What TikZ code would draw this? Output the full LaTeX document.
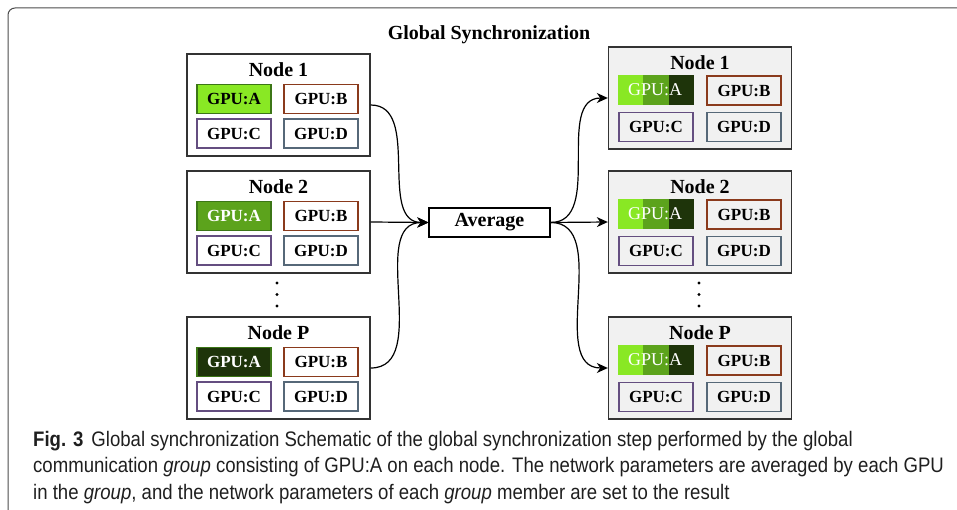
\documentclass[tikz,border=0pt]{standalone}
\usepackage{fontspec}
\setmainfont{Liberation Serif}
\newfontfamily\capfont[FakeStretch=0.885]{Liberation Sans}
\usetikzlibrary{arrows.meta}
\definecolor{limeA}{RGB}{137,232,36}
\definecolor{midA}{RGB}{92,163,28}
\definecolor{darkA}{RGB}{30,52,10}
\definecolor{edgeA}{RGB}{60,118,22}
\definecolor{edgeB}{RGB}{138,58,28}
\definecolor{edgeC}{RGB}{100,78,128}
\definecolor{edgeD}{RGB}{86,104,120}
\definecolor{panel}{RGB}{241,241,241}
\tikzset{
  machine/.style={draw=black!80, line width=1.4pt, minimum width=183pt, minimum height=102pt, inner sep=0pt},
  machinetitle/.style={font=\fontsize{20}{20}\selectfont\bfseries, inner sep=0pt},
  gpu/.style={draw, line width=1.3pt, minimum width=74pt, minimum height=29pt, inner sep=0pt,
    font=\fontsize{17}{17}\selectfont\bfseries},
  link/.style={line width=1.2pt, -{Stealth[length=11pt,width=10pt,inset=3.5pt]}}
}
\begin{document}
\begin{tikzpicture}[x=1pt,y=-1pt]
    \useasboundingbox (0,0) rectangle (957,510);
    \draw[line width=1pt, black!70] (8,510) -- (8,15) arc[start angle=180, end angle=270, radius=7] -- (957,8);
    \node[font=\fontsize{20}{20}\selectfont\bfseries] (title) at (489,35) {Global Synchronization};
    % left side: nodes before averaging
    \begin{scope}[shift={(0,54)}]
    \node[machine] (l1) at (278.5,51) {};
    \node[machinetitle] (l1t) at (278.5,16) {Node 1};
    \node[gpu, draw=edgeA, fill=limeA] (l1a) at (234,45) {GPU:A};
    \node[gpu, draw=edgeB] (l1b) at (321,45) {GPU:B};
    \node[gpu, draw=edgeC] (l1c) at (234,79.5) {GPU:C};
    \node[gpu, draw=edgeD] (l1d) at (321,79.5) {GPU:D};
    \end{scope}
    \begin{scope}[shift={(0,171)}]
    \node[machine] (l2) at (278.5,51) {};
    \node[machinetitle] (l2t) at (278.5,16) {Node 2};
    \node[gpu, draw=edgeA, fill=midA, text=white] (l2a) at (234,45) {GPU:A};
    \node[gpu, draw=edgeB] (l2b) at (321,45) {GPU:B};
    \node[gpu, draw=edgeC] (l2c) at (234,79.5) {GPU:C};
    \node[gpu, draw=edgeD] (l2d) at (321,79.5) {GPU:D};
    \end{scope}
    \begin{scope}[shift={(0,317)}]
    \node[machine] (lp) at (278.5,51) {};
    \node[machinetitle] (lpt) at (278.5,16) {Node P};
    \node[gpu, draw=edgeA, fill=darkA, text=white] (lpa) at (234,45) {GPU:A};
    \node[gpu, draw=edgeB] (lpb) at (321,45) {GPU:B};
    \node[gpu, draw=edgeC] (lpc) at (234,79.5) {GPU:C};
    \node[gpu, draw=edgeD] (lpd) at (321,79.5) {GPU:D};
    \end{scope}
    \foreach \y in {283,294.5,306} \fill (277,\y) circle (1.7);
    % right side: nodes after averaging
    \begin{scope}[shift={(0,47)}]
    \node[machine, fill=panel] (r1) at (700,51) {};
    \node[machinetitle] (r1t) at (700,15.5) {Node 1};
    \fill[limeA] (618,28) rectangle (643.3,58);
    \fill[midA] (643.3,28) rectangle (668.6,58);
    \fill[darkA] (668.6,28) rectangle (694,58);
    \node[font=\fontsize{18}{18}\selectfont, text=white, inner sep=0pt] (r1a) at (655,43) {GPU:A};
    \node[gpu, draw=edgeB] (r1b) at (744,43.5) {GPU:B};
    \node[gpu, draw=edgeC] (r1c) at (656,80) {GPU:C};
    \node[gpu, draw=edgeD] (r1d) at (744,80) {GPU:D};
    \end{scope}
    \begin{scope}[shift={(0,171)}]
    \node[machine, fill=panel] (r2) at (700,51) {};
    \node[machinetitle] (r2t) at (700,15.5) {Node 2};
    \fill[limeA] (618,28) rectangle (643.3,58);
    \fill[midA] (643.3,28) rectangle (668.6,58);
    \fill[darkA] (668.6,28) rectangle (694,58);
    \node[font=\fontsize{18}{18}\selectfont, text=white, inner sep=0pt] (r2a) at (655,43) {GPU:A};
    \node[gpu, draw=edgeB] (r2b) at (744,43.5) {GPU:B};
    \node[gpu, draw=edgeC] (r2c) at (656,80) {GPU:C};
    \node[gpu, draw=edgeD] (r2d) at (744,80) {GPU:D};
    \end{scope}
    \begin{scope}[shift={(0,317)}]
    \node[machine, fill=panel] (rp) at (700,51) {};
    \node[machinetitle] (rpt) at (700,15.5) {Node P};
    \fill[limeA] (618,28) rectangle (643.3,58);
    \fill[midA] (643.3,28) rectangle (668.6,58);
    \fill[darkA] (668.6,28) rectangle (694,58);
    \node[font=\fontsize{18}{18}\selectfont, text=white, inner sep=0pt] (rpa) at (655,43) {GPU:A};
    \node[gpu, draw=edgeB] (rpb) at (744,43.5) {GPU:B};
    \node[gpu, draw=edgeC] (rpc) at (656,80) {GPU:C};
    \node[gpu, draw=edgeD] (rpd) at (744,80) {GPU:D};
    \end{scope}
    \foreach \y in {283,294.5,306} \fill (699,\y) circle (1.7);
    \node[draw, line width=1.3pt, minimum width=121pt, minimum height=29pt, inner sep=0pt,
          font=\fontsize{20}{20}\selectfont\bfseries] (avg) at (489.5,222.5) {Average};
    % connectors
    \draw[link] (l1.east) to[out=0,in=180] (avg.west);
    \draw[link] (l2.east) -- (avg.west);
    \draw[link] (lp.east) to[out=0,in=180] (avg.west);
    \draw[link] (avg.east) to[out=0,in=180] (r1.west);
    \draw[link] (avg.east) -- (r2.west);
    \draw[link] (avg.east) to[out=0,in=180] (rp.west);
    % caption
    \node[anchor=north west, align=left, inner sep=0pt, text=black!88,
          font=\capfont\fontsize{21}{26.5}\selectfont] (caption) at (33,431)
      {\textbf{Fig. 3}\hspace{8pt}Global synchronization Schematic of the global synchronization step performed by the global\\
       communication \textit{group} consisting of GPU:A on each node. The network parameters are averaged by each GPU\\
       in the \textit{group}, and the network parameters of each \textit{group} member are set to the result};
\end{tikzpicture}
\end{document}
